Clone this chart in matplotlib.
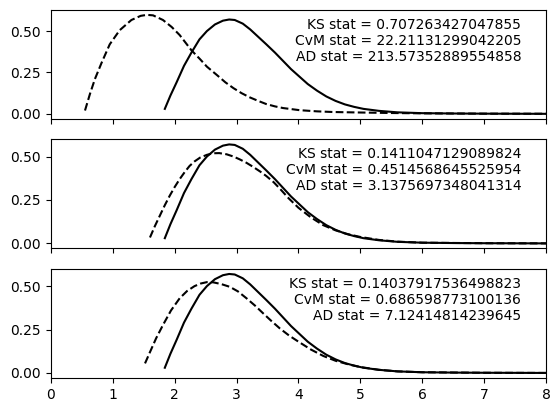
import numpy as np
from matplotlib import pyplot as plt

# solid curve (same in all three panels)
x_solid = [1.84, 1.93, 2.03, 2.15, 2.27, 2.4, 2.52, 2.65, 2.78, 2.88, 2.97, 3.1, 3.22, 3.35, 3.48,
           3.62, 3.75, 3.88, 4.0, 4.15, 4.3, 4.45, 4.6, 4.75, 4.9, 5.05, 5.3, 5.6, 6.0, 6.5, 7.0, 8.0]
y_solid = [0.03, 0.11, 0.19, 0.29, 0.37, 0.45, 0.5, 0.54, 0.563, 0.57, 0.567, 0.545, 0.51, 0.465, 0.42,
           0.37, 0.32, 0.27, 0.23, 0.18, 0.14, 0.105, 0.078, 0.057, 0.042, 0.03, 0.018, 0.009, 0.004,
           0.002, 0.001, 0.0]

# dashed curves, one per panel
x_dash1 = [0.55, 0.63, 0.71, 0.82, 0.95, 1.11, 1.3, 1.45, 1.55, 1.65, 1.81, 1.95, 2.08, 2.27, 2.41,
           2.52, 2.68, 2.82, 2.95, 3.08, 3.21, 3.35, 3.48, 3.62, 3.75, 4.02, 4.3, 4.56, 5.0, 5.5,
           6.0, 7.0, 8.0]
y_dash1 = [0.02, 0.12, 0.21, 0.31, 0.42, 0.505, 0.567, 0.592, 0.598, 0.595, 0.567, 0.525, 0.476, 0.384, 0.33,
           0.285, 0.235, 0.19, 0.155, 0.125, 0.10, 0.078, 0.059, 0.045, 0.035, 0.022, 0.015, 0.011, 0.008, 0.005,
           0.003, 0.001, 0.0005]

x_dash2 = [1.6, 1.68, 1.76, 1.84, 1.92, 2.0, 2.08, 2.16, 2.24, 2.32, 2.41, 2.52, 2.62, 2.72, 2.84,
           2.95, 3.05, 3.16, 3.27, 3.38, 3.48, 3.6, 3.7, 3.84, 4.0, 4.2, 4.4, 4.6, 4.8, 5.0,
           5.3, 5.6, 6.0, 7.0, 8.0]
y_dash2 = [0.034, 0.1, 0.16, 0.22, 0.275, 0.325, 0.37, 0.41, 0.446, 0.472, 0.494, 0.51, 0.519, 0.52, 0.513,
           0.5, 0.484, 0.464, 0.44, 0.414, 0.388, 0.352, 0.315, 0.26, 0.205, 0.15, 0.105, 0.075, 0.053, 0.037,
           0.02, 0.01, 0.004, 0.001, 0.0]

x_dash3 = [1.52, 1.6, 1.7, 1.81, 1.94, 2.08, 2.2, 2.32, 2.42, 2.52, 2.62, 2.75, 2.89, 3.02, 3.16,
           3.3, 3.43, 3.56, 3.7, 3.85, 4.0, 4.2, 4.4, 4.6, 4.8, 5.0, 5.3, 5.6, 6.0, 7.0, 8.0]
y_dash3 = [0.055, 0.12, 0.2, 0.276, 0.36, 0.43, 0.472, 0.5, 0.515, 0.523, 0.522, 0.512, 0.496, 0.47, 0.43,
           0.387, 0.343, 0.3, 0.256, 0.215, 0.18, 0.135, 0.098, 0.07, 0.05, 0.034, 0.018, 0.009, 0.004,
           0.001, 0.0]

ks = ["0.707263427047855", "0.1411047129089824", "0.14037917536498823"]
cvm = ["22.21131299042205", "0.4514568645525954", "0.686598773100136"]
ad = ["213.57352889554858", "3.1375697348041314", "7.12414814239645"]

dashed = [(x_dash1, y_dash1), (x_dash2, y_dash2), (x_dash3, y_dash3)]

fig, axes = plt.subplots(3, 1, sharex=True, figsize=(5.6, 4.13), dpi=100)
fig.subplots_adjust(left=0.091, right=0.975, top=0.976, bottom=0.085, hspace=0.19)

for i, ax in enumerate(axes):
    ax.plot(x_solid, y_solid, color="k")
    ax.plot(dashed[i][0], dashed[i][1], color="k", linestyle="--")
    ax.text(0.95, 0.93,
            "KS stat = " + ks[i] + "\nCvM stat = " + cvm[i] + "\nAD stat = " + ad[i],
            transform=ax.transAxes, ha="right", va="top", fontsize=10)
    ax.set_xlim(0, 8)

plt.savefig("out.png")
